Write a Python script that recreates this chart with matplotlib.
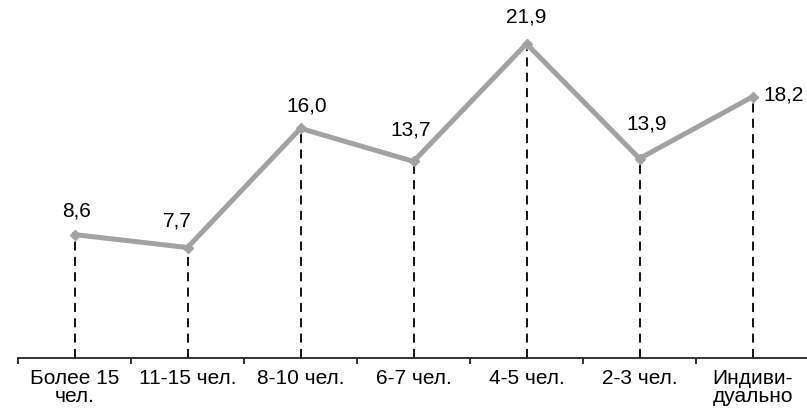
import numpy as np
import matplotlib.pyplot as plt

plt.rcParams['font.family'] = ['Liberation Sans', 'DejaVu Sans']

groups = ["Более 15\nчел.", "11-15 чел.", "8-10 чел.", "6-7 чел.",
          "4-5 чел.", "2-3 чел.", "Индиви-\nдуально"]
shares = [8.6, 7.7, 16.0, 13.7, 21.9, 13.9, 18.2]
value_labels = ["8,6", "7,7", "16,0", "13,7", "21,9", "13,9", "18,2"]

# label offsets in pixels (dx, dy) and alignment
label_pos = [(2, 14, "center", "bottom"), (-10, 17, "center", "bottom"),
             (6, 13, "center", "bottom"), (-3, 22, "center", "bottom"),
             (0, 17, "center", "bottom"), (7, 25, "center", "bottom"),
             (11, 2, "left", "center")]

x = np.arange(len(groups))

fig = plt.figure(figsize=(8.07, 4.09), dpi=100)
ax = fig.add_axes([18 / 807, 51 / 409, 791 / 807, 358 / 409])

# dashed drop lines
for xi, v in zip(x, shares):
    ax.plot([xi, xi], [0, v], color="black", lw=1.3, dashes=(5, 3.5), zorder=1)

ax.plot(x, shares, color="#a2a2a4", lw=3.6, marker="D", ms=5.5,
        mfc="#a2a2a4", mec="#a2a2a4", zorder=3)

for xi, v, lab, (dx, dy, ha, va) in zip(x, shares, value_labels, label_pos):
    ax.annotate(lab, (xi, v), xytext=(dx, dy), textcoords="offset pixels",
                ha=ha, va=va, fontsize=15, color="black")

ax.set_xlim(-0.5, len(groups) - 0.5)
ax.set_ylim(0, 24.95)

for side in ["left", "right", "top"]:
    ax.spines[side].set_visible(False)
ax.spines["bottom"].set_linewidth(1.3)
ax.spines["bottom"].set_color("#222222")
ax.set_yticks([])

# ticks between categories, labels at category centers
ax.set_xticks(np.arange(-0.5, len(groups) - 0.5, 1.0))
ax.set_xticklabels([])
ax.tick_params(axis="x", which="major", direction="out", length=4,
               width=1.3, color="#222222")
ax.set_xticks(x, minor=True)
ax.set_xticklabels(groups, minor=True, fontsize=15, linespacing=0.95)
ax.tick_params(axis="x", which="minor", length=0, pad=8)
ax.get_xticklabels(minor=True)[0].set_x(0.04)

fig.savefig("out.png", dpi=100)
